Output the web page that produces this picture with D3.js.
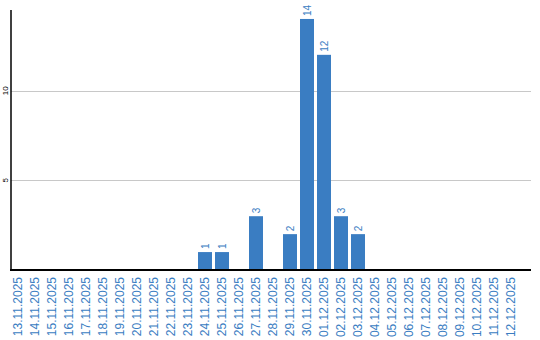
<!DOCTYPE html>
<html>
<head>
<meta charset="utf-8">
<script src="https://cdn.jsdelivr.net/npm/d3@7"></script>
<style>
  body { margin: 0; background: #fff; }
  svg { display: block; }
</style>
</head>
<body>
<div id="graphicContainer"></div>
<script>
var dates = ["13.11.2025","14.11.2025","15.11.2025","16.11.2025","17.11.2025","18.11.2025",
	"19.11.2025","20.11.2025","21.11.2025","22.11.2025","23.11.2025","24.11.2025",
	"25.11.2025","26.11.2025","27.11.2025","28.11.2025","29.11.2025","30.11.2025",
	"01.12.2025","02.12.2025","03.12.2025","04.12.2025","05.12.2025","06.12.2025",
	"07.12.2025","08.12.2025","09.12.2025","10.12.2025","11.12.2025","12.12.2025"]
var counts = [0,0,0,0,0,0,0,0,0,0,0,1,1,0,3,0,2,14,12,3,2,0,0,0,0,0,0,0,0,0]
var yTicks = [5, 10]

var width = 540
var height = 340
var blue = "#3a7dc2"
var sans = "'Liberation Sans', Arial, sans-serif"

var svg = d3.select("#graphicContainer").append("svg")
	.attr("width", width)
	.attr("height", height)

var x = d3.scaleBand()
	.domain(dates)
	.range([11, 518])
	.paddingInner(3 / 17)
	.paddingOuter(0)

var y = d3.scaleLinear()
	.domain([0, 14.5])
	.range([270, 10])

// gridlines
svg.append("g")
	.selectAll("line")
	.data(yTicks)
	.enter()
	.append("line")
	.attr("x1", 11)
	.attr("x2", 531)
	.attr("y1", d => Math.round(y(d)) + 0.5)
	.attr("y2", d => Math.round(y(d)) + 0.5)
	.attr("stroke", "#c8c8c8")
	.attr("stroke-width", 1)

svg.append("g")
	.selectAll("text")
	.data(yTicks)
	.enter()
	.append("text")
	.attr("transform", d => "translate(5," + y(d) + ") rotate(-90)")
	.attr("text-anchor", "middle")
	.attr("dy", "0.35em")
	.attr("font-family", sans)
	.attr("font-size", 8)
	.attr("fill", "#000")
	.text(d => d)

// bars
var data = dates.map((d, i) => ({date: d, value: counts[i]}))
var nonZero = data.filter(d => d.value > 0)

svg.append("g")
	.selectAll("rect")
	.data(nonZero)
	.enter()
	.append("rect")
	.attr("x", d => x(d.date))
	.attr("width", x.bandwidth())
	.attr("y", d => y(d.value))
	.attr("height", d => y(0) - y(d.value))
	.attr("fill", blue)

svg.append("g")
	.selectAll("text")
	.data(nonZero)
	.enter()
	.append("text")
	.attr("transform", d => "translate(" + (x(d.date) + x.bandwidth() / 2) + "," + (y(d.value) - 3) + ") rotate(-90)")
	.attr("text-anchor", "start")
	.attr("dy", "0.35em")
	.attr("font-family", sans)
	.attr("font-size", 10)
	.attr("fill", blue)
	.text(d => d.value)

// axes
svg.append("line")
	.attr("x1", 11).attr("x2", 11)
	.attr("y1", 10).attr("y2", 270)
	.attr("stroke", "#000")
	.attr("stroke-width", 1.5)

svg.append("line")
	.attr("x1", 10).attr("x2", 531)
	.attr("y1", 270).attr("y2", 270)
	.attr("stroke", "#000")
	.attr("stroke-width", 2)

// date labels
svg.append("g")
	.selectAll("text")
	.data(dates)
	.enter()
	.append("text")
	.attr("transform", d => "translate(" + (x(d) + x.bandwidth() / 2) + ",277) rotate(-90)")
	.attr("text-anchor", "end")
	.attr("dy", "0.35em")
	.attr("font-family", sans)
	.attr("font-size", 12)
	.attr("fill", blue)
	.text(d => d)
</script>
</body>
</html>
